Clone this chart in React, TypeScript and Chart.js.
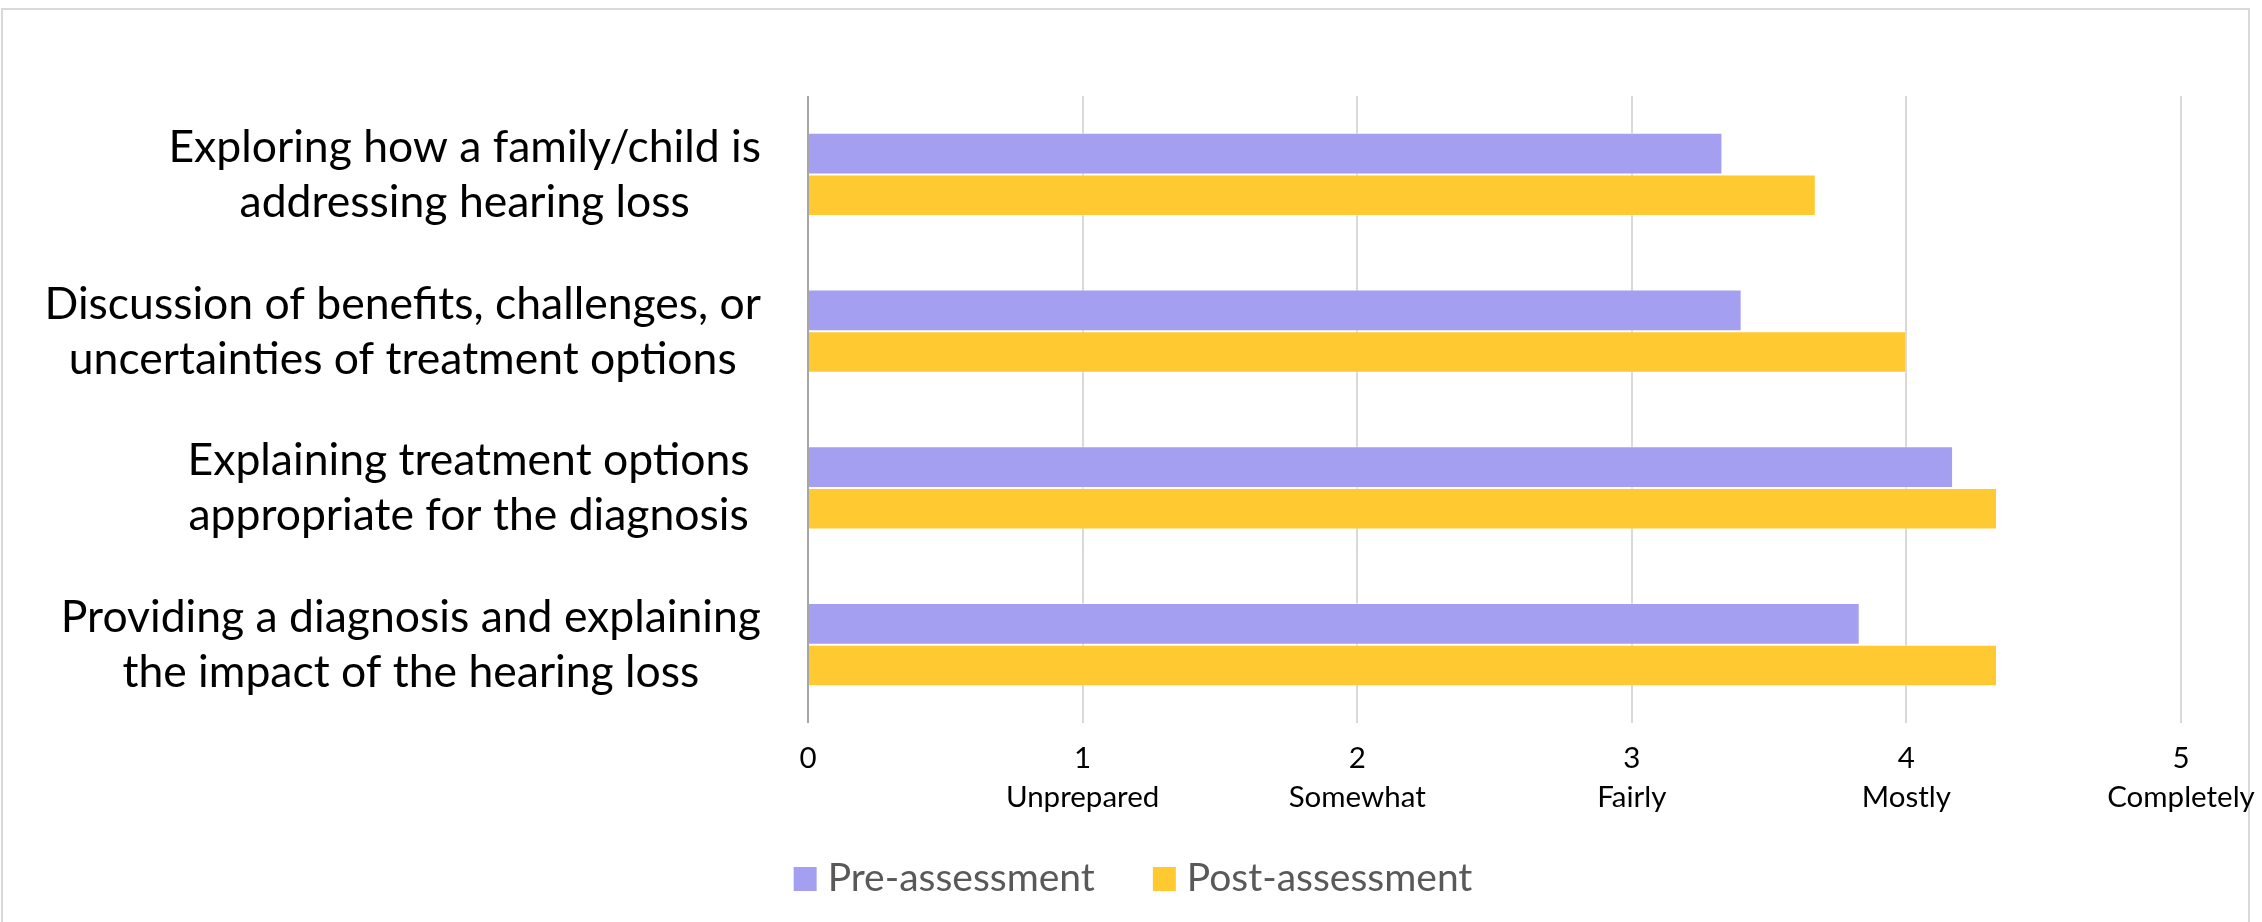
import React, { useEffect, useRef } from 'react';
import { Chart, registerables } from 'chart.js';

Chart.register(...registerables);

// ---- data ----
const categories: string[][] = [
  ['Exploring how a family/child is', 'addressing hearing loss'],
  ['Discussion of benefits, challenges, or', 'uncertainties of treatment options'],
  ['Explaining treatment options ', 'appropriate for the diagnosis '],
  ['Providing a diagnosis and explaining', 'the impact of the hearing loss'],
];
const seriesNames = ['Pre-assessment', 'Post-assessment'];
const preValues = [3.33, 3.4, 4.17, 3.83];
const postValues = [3.67, 4.0, 4.33, 4.33];
const tickNumbers = ['0', '1', '2', '3', '4', '5'];
const tickWords = ['', 'Unprepared', 'Somewhat', 'Fairly', 'Mostly', 'Completely'];

// ---- style ----
const PRE_COLOR = '#A49FF0';
const POST_COLOR = '#FFC931';
const FONT = 'Lato';
const CAT_FONT = 44.5;
const TICK_FONT = 29.5;
const LEG_FONT = 39;

const framePlugin = {
  id: 'frame',
  beforeDraw(chart: any) {
    const { ctx } = chart;
    ctx.save();
    ctx.fillStyle = '#ffffff';
    ctx.fillRect(0, 0, chart.width, chart.height);
    ctx.strokeStyle = '#d9d9d9';
    ctx.lineWidth = 2;
    ctx.strokeRect(2, 9, 2247, 1000);
    ctx.restore();
  },
};

const categoryLabelPlugin = {
  id: 'categoryLabels',
  afterDraw(chart: any) {
    const { ctx, chartArea } = chart;
    const yScale = chart.scales.y;
    ctx.save();
    ctx.font = `${CAT_FONT}px ${FONT}`;
    ctx.fillStyle = '#000000';
    ctx.textAlign = 'center';
    ctx.textBaseline = 'alphabetic';
    const capH = ctx.measureText('E').actualBoundingBoxAscent;
    categories.forEach((lines, i) => {
      const cy = yScale.getPixelForValue(i);
      const maxW = Math.max(...lines.map((l) => ctx.measureText(l).width));
      const cx = chartArea.left - 47 - maxW / 2;
      const n = lines.length;
      lines.forEach((line, j) => {
        const lineCenter = cy + (j - (n - 1) / 2) * 55 - 1;
        ctx.fillText(line, cx, lineCenter + capH / 2);
      });
    });
    ctx.restore();
  },
};

const legendPlugin = {
  id: 'customLegend',
  afterDraw(chart: any) {
    const { ctx } = chart;
    ctx.save();
    ctx.font = `${LEG_FONT}px ${FONT}`;
    ctx.textAlign = 'left';
    ctx.textBaseline = 'alphabetic';
    const items = chart.data.datasets.map((d: any) => ({
      label: d.label as string,
      color: d.backgroundColor as string,
      w: ctx.measureText(d.label).width,
    }));
    const box = 23;
    const gap = 11;
    const spacing = 58;
    const total =
      items.reduce((s: number, it: any) => s + box + gap + it.w, 0) + spacing * (items.length - 1);
    let x = chart.width / 2 - total / 2 + 2;
    const baseline = 891;
    items.forEach((it: any) => {
      ctx.fillStyle = it.color;
      ctx.fillRect(x, baseline - 24, box, 24);
      ctx.fillStyle = '#595959';
      ctx.fillText(it.label, x + box + gap, baseline);
      x += box + gap + it.w + spacing;
    });
    ctx.restore();
  },
};

export default function App() {
  const canvasRef = useRef<HTMLCanvasElement | null>(null);

  useEffect(() => {
    if (!canvasRef.current) return;
    const chart = new Chart(canvasRef.current, {
      type: 'bar',
      data: {
        labels: categories.map((c) => c.join(' ')),
        datasets: [
          {
            label: seriesNames[0],
            data: preValues,
            backgroundColor: PRE_COLOR,
            borderColor: 'rgba(255,255,255,0.5)',
            borderWidth: 1,
            categoryPercentage: 0.53,
            barPercentage: 1,
          },
          {
            label: seriesNames[1],
            data: postValues,
            backgroundColor: POST_COLOR,
            borderColor: 'rgba(255,255,255,0.5)',
            borderWidth: 1,
            categoryPercentage: 0.53,
            barPercentage: 1,
          },
        ],
      },
      options: {
        indexAxis: 'y',
        responsive: false,
        animation: false,
        devicePixelRatio: 1,
        layout: { padding: { left: 0, right: 81, top: 96, bottom: 79 } },
        plugins: {
          legend: { display: false },
          tooltip: { enabled: false },
        },
        scales: {
          x: {
            type: 'linear',
            min: 0,
            max: 5,
            ticks: {
              stepSize: 1,
              color: '#000000',
              padding: 16,
              font: { family: FONT, size: TICK_FONT, lineHeight: '39px' },
              callback: (v: any) => [tickNumbers[Number(v)], tickWords[Number(v)]],
            },
            grid: {
              drawTicks: false,
              lineWidth: 2,
              color: (c: any) => (c.tick && c.tick.value === 0 ? '#a6a6a6' : '#d9d9d9'),
            },
            border: { display: false },
            afterFit: (s: any) => {
              s.height = 120;
              s.paddingLeft = 0;
              s.paddingRight = 0;
            },
          },
          y: {
            type: 'category',
            ticks: { display: false },
            grid: { display: false },
            border: { display: false },
            afterFit: (s: any) => {
              s.width = 808;
              s.paddingTop = 0;
              s.paddingBottom = 0;
            },
          },
        },
      },
      plugins: [framePlugin, categoryLabelPlugin, legendPlugin],
    });
    return () => chart.destroy();
  }, []);

  return (
    <div style={{ position: 'absolute', left: 0, top: 0, width: 2262, height: 922 }}>
      <canvas ref={canvasRef} width={2262} height={922} style={{ display: 'block' }} />
    </div>
  );
}
